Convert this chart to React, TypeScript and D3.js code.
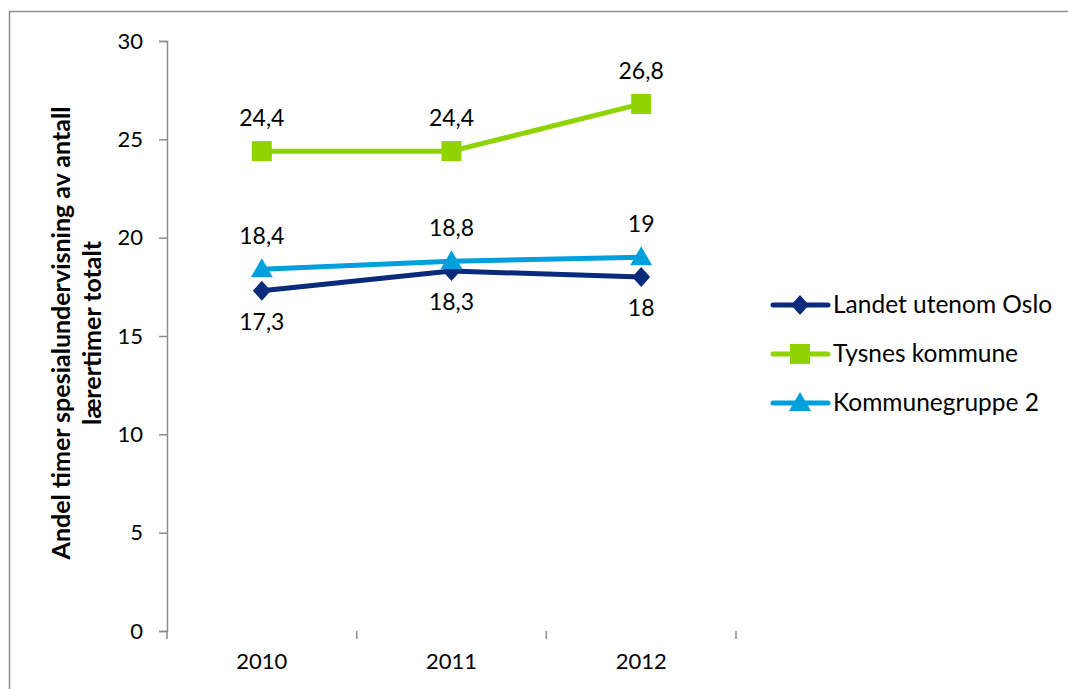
import { useEffect, useRef } from "react";
import * as d3 from "d3";

const years = ["2010", "2011", "2012"];
const landet = [17.3, 18.3, 18];
const tysnes = [24.4, 24.4, 26.8];
const gruppe = [18.4, 18.8, 19];
const yTicks = [0, 5, 10, 15, 20, 25, 30];

const seriesList = [
  { name: "Landet utenom Oslo", values: landet, color: "#0a2a7b", marker: "diamond", labelPos: "below" },
  { name: "Tysnes kommune", values: tysnes, color: "#8fd400", marker: "square", labelPos: "above" },
  { name: "Kommunegruppe 2", values: gruppe, color: "#00a0dd", marker: "triangle", labelPos: "above" },
];

const FONT = "Lato, 'Open Sans', sans-serif";
const W = 1068;
const H = 689;

function fmt(v: number) {
  return String(v).replace(".", ",");
}

// marker outlines, centred on the data point
function markerPath(kind: string) {
  const p = d3.path();
  if (kind === "diamond") {
    p.moveTo(0, -10); p.lineTo(9, 0); p.lineTo(0, 10); p.lineTo(-9, 0);
  } else if (kind === "square") {
    p.rect(-10, -10, 20, 20);
  } else {
    p.moveTo(0, -11); p.lineTo(11, 8); p.lineTo(-11, 8);
  }
  p.closePath();
  return p.toString();
}

export default function App() {
  const svgRef = useRef<SVGSVGElement>(null);

  useEffect(() => {
    if (!svgRef.current) return;
    const root = d3.select(svgRef.current);
    root.selectAll("*").remove();

    const x = d3.scaleBand().domain(years).range([167, 736]);
    const y = d3.scaleLinear().domain([0, 30]).range([631, 41]);
    const cx = (d: string) => (x(d) as number) + x.bandwidth() / 2;

    // chart frame
    root.append("rect")
      .attr("x", 9.5).attr("y", 11.5)
      .attr("width", W + 20).attr("height", H + 20)
      .attr("fill", "none")
      .attr("stroke", "#8c8c8c")
      .attr("stroke-width", 1.5);

    // axes
    const yAxis = d3.axisLeft(y).tickValues(yTicks).tickSize(8).tickPadding(16).tickFormat(d => String(d));
    const gy = root.append("g").attr("transform", "translate(167,0)").call(yAxis);
    const xAxis = d3.axisBottom(x).tickSize(0).tickPadding(22);
    const gx = root.append("g").attr("transform", "translate(0,631)").call(xAxis);

    // category boundary ticks on x axis
    const bounds = [...years.map(d => x(d) as number), x.range()[1]];
    root.append("g").selectAll("line")
      .data(bounds)
      .enter()
      .append("line")
      .attr("x1", d => d).attr("x2", d => d)
      .attr("y1", 631).attr("y2", 639)
      .attr("stroke", "#8c8c8c")
      .attr("stroke-width", 1.5);

    [gy, gx].forEach(g => {
      g.selectAll(".domain, .tick line").attr("stroke", "#8c8c8c").attr("stroke-width", 1.5);
      g.selectAll("text").attr("font-family", FONT).attr("font-size", 22).attr("fill", "#000");
    });
    gy.select(".domain").attr("d", "M-8,41.5H0.5V631.5H-8");
    gx.select(".domain").attr("d", `M167,631.5H736`);

    // y axis title
    const title = root.append("text")
      .attr("transform", "translate(70,333) rotate(-90)")
      .attr("text-anchor", "middle")
      .attr("font-family", FONT)
      .attr("font-weight", "bold")
      .attr("font-size", 25)
      .attr("fill", "#000");
    title.append("tspan").attr("x", 0).attr("y", 0).text("Andel timer spesialundervisning av antall");
    title.append("tspan").attr("x", 0).attr("y", 31).text("lærertimer totalt");

    const line = d3.line<number>()
      .x((_, i) => cx(years[i]))
      .y(d => y(d));

    seriesList.forEach(s => {
      const g = root.append("g");
      g.append("path")
        .attr("d", line(s.values))
        .attr("fill", "none")
        .attr("stroke", s.color)
        .attr("stroke-width", 5)
        .attr("stroke-linejoin", "round");
      g.selectAll("path.m")
        .data(s.values)
        .enter()
        .append("path")
        .attr("class", "m")
        .attr("d", markerPath(s.marker))
        .attr("transform", (d, i) => `translate(${cx(years[i])},${y(d)})`)
        .attr("fill", s.color);
      g.selectAll("text")
        .data(s.values)
        .enter()
        .append("text")
        .attr("x", (_, i) => cx(years[i]))
        .attr("y", d => y(d) + (s.labelPos === "above" ? -25 : 39))
        .attr("text-anchor", "middle")
        .attr("font-family", FONT)
        .attr("font-size", 23)
        .attr("fill", "#000")
        .text(d => fmt(d));
    });

    // legend
    const legend = root.append("g").attr("transform", "translate(773,305)");
    seriesList.forEach((s, i) => {
      const row = legend.append("g").attr("transform", `translate(0,${i * 49})`);
      row.append("line")
        .attr("x1", 0).attr("x2", 55)
        .attr("y1", 0).attr("y2", 0)
        .attr("stroke", s.color)
        .attr("stroke-width", 5)
        .attr("stroke-linecap", "round");
      row.append("path")
        .attr("d", markerPath(s.marker))
        .attr("transform", "translate(27,0)")
        .attr("fill", s.color);
      row.append("text")
        .attr("x", 60).attr("y", 8)
        .attr("font-family", FONT)
        .attr("font-size", 24.5)
        .attr("fill", "#000")
        .text(s.name);
    });
  }, []);

  return (
    <svg
      ref={svgRef}
      width={W}
      height={H}
      style={{ position: "absolute", left: 0, top: 0, background: "#fff" }}
    />
  );
}
